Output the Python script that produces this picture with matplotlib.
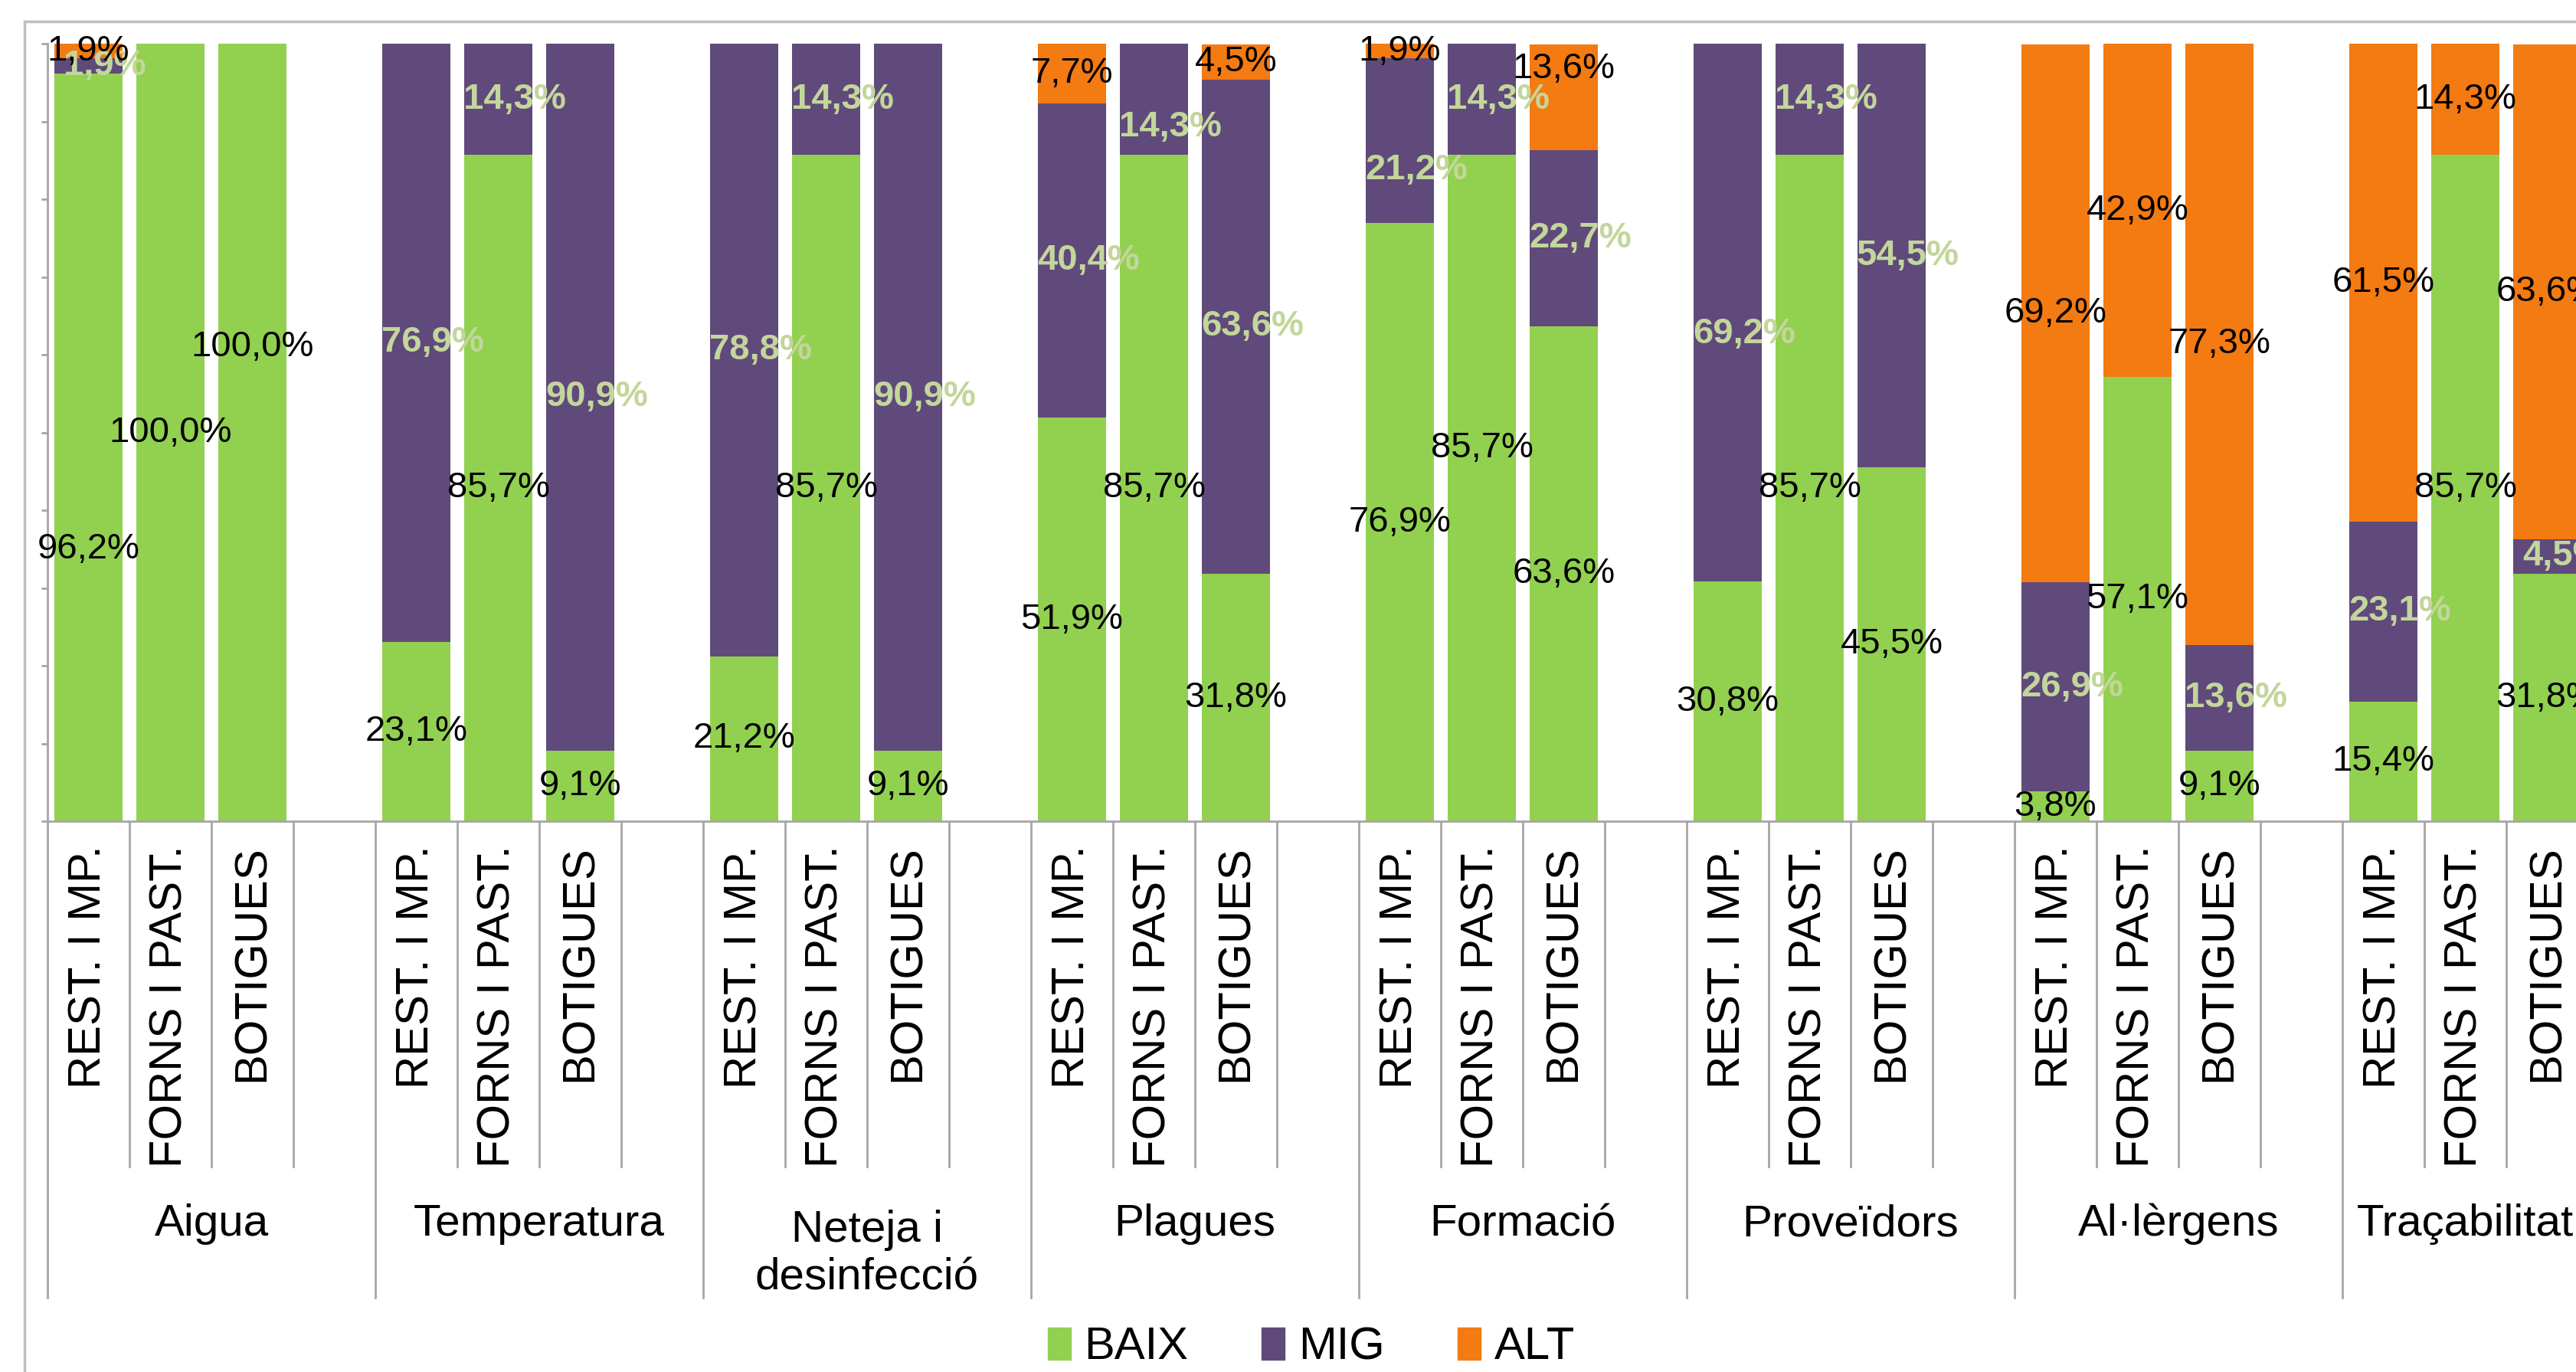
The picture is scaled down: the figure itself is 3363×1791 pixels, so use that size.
import matplotlib
matplotlib.use("Agg")
import matplotlib.pyplot as plt
from matplotlib.patches import Patch
from matplotlib.lines import Line2D

plt.rcParams['font.family'] = ['Liberation Sans', 'DejaVu Sans']

# data
groups = ["Aigua", "Temperatura", "Neteja i\ndesinfecció", "Plagues", "Formació",
          "Proveïdors", "Al·lèrgens", "Traçabilitat"]
types = ["REST. I MP.", "FORNS I PAST.", "BOTIGUES"]
series_names = ["BAIX", "MIG", "ALT"]

baix = [96.2, 100, 100, 23.1, 85.7, 9.1, 21.2, 85.7, 9.1, 51.9, 85.7, 31.8,
        76.9, 85.7, 63.6, 30.8, 85.7, 45.5, 3.8, 57.1, 9.1, 15.4, 85.7, 31.8]
mig = [1.9, 0, 0, 76.9, 14.3, 90.9, 78.8, 14.3, 90.9, 40.4, 14.3, 63.6,
       21.2, 14.3, 22.7, 69.2, 14.3, 54.5, 26.9, 0, 13.6, 23.1, 0, 4.5]
alt = [1.9, 0, 0, 0, 0, 0, 0, 0, 0, 7.7, 0, 4.5,
       1.9, 0, 13.6, 0, 0, 0, 69.2, 42.9, 77.3, 61.5, 14.3, 63.6]

colors = {"BAIX": "#92D050", "MIG": "#604A7B", "ALT": "#F47A12"}
label_style = {"BAIX": ("black", "normal", 0.0),
               "MIG": ("#C3D69B", "bold", 0.2),
               "ALT": ("black", "normal", 0.0)}
# labels that Excel left away from the middle of their segment (in %)
label_shift = {(0, "BAIX"): -13.1, (2, "BAIX"): 11.0, (13, "BAIX"): 5.1,
               (12, "MIG"): -3.8, (14, "ALT"): 3.6, (15, "MIG"): -2.7,
               (10, "MIG"): -3.6}

W, H = 3363, 1791
fig = plt.figure(figsize=(W / 100, H / 100), dpi=100)
ax_left, ax_top, ax_bot = 62, 57, 1072
slot = 107.0
ax = fig.add_axes([ax_left / W, 1 - ax_bot / H, (W - ax_left) / W, (ax_bot - ax_top) / H])
ax.set_xlim(0, (W - ax_left) / slot)
ax.set_ylim(0, 100)

xs = [g * 4 + j + 0.5 for g in range(len(groups)) for j in range(len(types))]
values = {"BAIX": baix, "MIG": mig, "ALT": alt}
bottom = [0.0] * len(xs)
for name in series_names:
    vals = values[name]
    ax.bar(xs, vals, width=0.83, bottom=bottom, color=colors[name], linewidth=0)
    col, weight, dx = label_style[name]
    for i, (x, v, b) in enumerate(zip(xs, vals, bottom)):
        if v <= 0:
            continue
        y = b + v / 2 + label_shift.get((i, name), 0)
        ax.text(x + dx, y, f"{v:.1f}".replace(".", ",") + "%", ha="center", va="center",
                fontsize=34, color=col, fontweight=weight)
    bottom = [b + v for b, v in zip(bottom, vals)]

grey = "#A6A6A6"
for s in ["top", "right"]:
    ax.spines[s].set_visible(False)
for s in ["left", "bottom"]:
    ax.spines[s].set_color(grey)
    ax.spines[s].set_linewidth(2)
ax.set_yticks(range(0, 101, 10))
ax.tick_params(axis="y", direction="out", length=6, width=2, color=grey, labelleft=False)
ax.set_xticks([])

# category axis: boundary lines and labels
trans = ax.get_xaxis_transform()
span = ax_bot - ax_top
lvl1 = -(1523 - ax_bot) / span
lvl2 = -(1694 - ax_bot) / span
for b in range(0, 31):
    ax.plot([b, b], [0, lvl2 if b % 4 == 0 else lvl1], transform=trans,
            clip_on=False, color=grey, lw=2)

for i, x in enumerate(xs):
    ax.text(x, -(1103 - ax_bot) / span, types[i % 3], transform=trans,
            rotation=90, ha="center", va="top", fontsize=43)

group_dx = {7: -0.5}
line_px = 42 * 1.2 * 100 / 72
for g, name in enumerate(groups):
    base = 1613 + name.count("\n") * line_px
    ax.text(g * 4 + 2 + group_dx.get(g, 0), -(base - ax_bot) / span, name,
            transform=trans, ha="center", va="baseline", fontsize=42, linespacing=1.2)

# chart border (cut off at right and bottom)
fig.add_artist(Line2D([32 / W, 32 / W], [0, 1 - 28 / H], color="#BFBFBF", lw=2.5))
fig.add_artist(Line2D([32 / W, 1], [1 - 28 / H, 1 - 28 / H], color="#BFBFBF", lw=2.5))

handles = [Patch(color=colors[n], label=n) for n in series_names]
fig.legend(handles=handles, loc="center", bbox_to_anchor=(1712 / W, 1 - 1759 / H), ncol=3,
           frameon=False, fontsize=43, handlelength=0.5, handleheight=0.7,
           handletextpad=0.3, columnspacing=1.6)

fig.savefig("out.png", dpi=100)
